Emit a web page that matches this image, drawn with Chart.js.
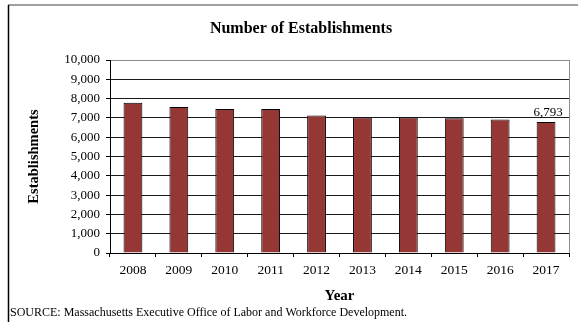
<!DOCTYPE html>
<html>
<head>
<meta charset="utf-8">
<script src="https://cdn.jsdelivr.net/npm/chart.js@4"></script>
<style>
  html, body { margin: 0; padding: 0; background: #fff; }
  #wrap { position: relative; width: 578px; height: 322px; }
  canvas { display: block; }
</style>
</head>
<body>
<div id="wrap"><canvas id="c" width="578" height="322"></canvas></div>
<script>
const years = ['2008', '2009', '2010', '2011', '2012', '2013', '2014', '2015', '2016', '2017'];
const establishments = [7780, 7560, 7460, 7460, 7130, 7020, 7020, 6980, 6920, 6793];
const yTicks = [0, 1000, 2000, 3000, 4000, 5000, 6000, 7000, 8000, 9000, 10000];
const chartTitle = 'Number of Establishments';
const yTitle = 'Establishments';
const xTitle = 'Year';
const sourceNote = 'SOURCE: Massachusetts Executive Office of Labor and Workforce Development.';

const SERIF = '"Liberation Serif", "Times New Roman", serif';

const decorPlugin = {
  id: 'decor',
  beforeDraw(chart) {
    const ctx = chart.ctx;
    ctx.save();
    ctx.fillStyle = '#fff';
    ctx.fillRect(0, 0, chart.width, chart.height);
    // outer frame
    ctx.strokeStyle = '#a0a0a0';
    ctx.lineWidth = 2;
    ctx.beginPath();
    ctx.moveTo(8, 5); ctx.lineTo(chart.width, 5);
    ctx.stroke();
    ctx.strokeStyle = '#000';
    ctx.lineWidth = 1.5;
    ctx.beginPath();
    ctx.moveTo(8.5, 5); ctx.lineTo(8.5, chart.height);
    ctx.stroke();
    // main title
    ctx.fillStyle = '#000';
    ctx.font = 'bold 16px ' + SERIF;
    ctx.textAlign = 'center';
    ctx.textBaseline = 'middle';
    ctx.fillText(chartTitle, 301, 29);
    ctx.restore();
  },
  afterDatasetsDraw(chart) {
    const ctx = chart.ctx;
    const a = chart.chartArea;
    ctx.save();
    // plot area right border
    ctx.strokeStyle = '#8c8c8c';
    ctx.lineWidth = 1;
    ctx.beginPath();
    ctx.moveTo(Math.round(a.right) + 0.5, a.top);
    ctx.lineTo(Math.round(a.right) + 0.5, a.bottom);
    ctx.stroke();
    // data label on last bar
    const meta = chart.getDatasetMeta(0);
    const last = meta.data[meta.data.length - 1];
    const v = establishments[establishments.length - 1];
    ctx.fillStyle = '#000';
    ctx.font = '13px ' + SERIF;
    ctx.textAlign = 'center';
    ctx.textBaseline = 'middle';
    ctx.fillText(v.toLocaleString('en-US'), last.x + 2, last.y - 9);
    ctx.restore();
  }
};

new Chart(document.getElementById('c'), {
  type: 'bar',
  data: {
    labels: years,
    datasets: [{
      data: establishments,
      backgroundColor: '#953735',
      borderColor: '#000',
      borderWidth: 1,
      barPercentage: 0.41,
      categoryPercentage: 1.0
    }]
  },
  options: {
    responsive: false,
    animation: false,
    devicePixelRatio: 1,
    layout: { padding: { left: 10, top: 60, right: 9, bottom: 0 } },
    plugins: {
      legend: { display: false },
      tooltip: { enabled: false },
      title: { display: false },
      subtitle: {
        display: true,
        text: sourceNote,
        position: 'bottom',
        align: 'start',
        color: '#000',
        font: { family: SERIF, size: 12, weight: 'normal' },
        padding: { top: 0, bottom: 2.2 }
      }
    },
    scales: {
      x: {
        grid: {
          display: true,
          drawOnChartArea: false,
          drawTicks: true,
          tickLength: 4,
          color: '#000',
          offset: true
        },
        border: { display: true, color: '#000', width: 1 },
        ticks: {
          color: '#000',
          font: { family: SERIF, size: 13.5 },
          padding: 5,
          maxRotation: 0
        },
        title: {
          display: true,
          text: xTitle,
          color: '#000',
          font: { family: SERIF, size: 15, weight: 'bold' },
          padding: { top: 0, bottom: 0 }
        },
        afterFit(scale) { scale.height = 52.4; }
      },
      y: {
        min: 0,
        max: 10000,
        afterBuildTicks(scale) { scale.ticks = yTicks.map(v => ({ value: v })); },
        grid: {
          color: ctx => (ctx.tick && ctx.tick.value === 10000) ? '#8c8c8c' : '#1a1a1a',
          tickColor: '#000',
          lineWidth: 1,
          drawTicks: true,
          tickLength: 4
        },
        border: { display: true, color: '#000', width: 1 },
        ticks: {
          color: '#000',
          font: { family: SERIF, size: 13 },
          padding: 6,
          callback: v => Number(v).toLocaleString('en-US')
        },
        title: {
          display: true,
          text: yTitle,
          color: '#000',
          font: { family: SERIF, size: 14.5, weight: 'bold' },
          padding: { top: 16, bottom: 0 }
        },
        afterFit(scale) { scale.width = 100; }
      }
    }
  },
  plugins: [decorPlugin]
});
</script>
</body>
</html>
